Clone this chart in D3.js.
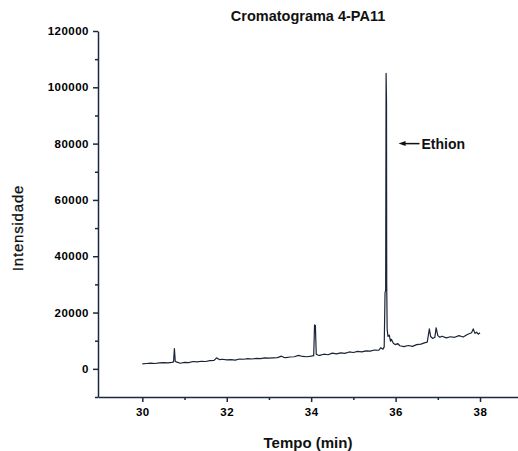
<!DOCTYPE html>
<html>
<head>
<meta charset="utf-8">
<script src="https://cdn.jsdelivr.net/npm/d3@7"></script>
<style>
  body { margin: 0; background: #fff; }
  svg { font-family: "Liberation Sans", Arial, sans-serif; }
  .axis path, .axis line { stroke: #1c2840; stroke-width: 1.5; }
  .axis text { fill: #000; font-weight: bold; font-size: 11.5px; letter-spacing: 0.5px; }
</style>
</head>
<body>
<svg id="chart"></svg>
<script>
// retention time (min) and detector intensity
const tempo = [
  30.00, 30.10, 30.20, 30.30, 30.40, 30.50, 30.60, 30.70, 30.74, 30.76, 30.78, 30.82, 30.90,
  31.00, 31.10, 31.20, 31.30, 31.40, 31.50, 31.60, 31.70, 31.76, 31.82, 31.90,
  32.00, 32.10, 32.20, 32.30, 32.40, 32.50, 32.60, 32.70, 32.80, 32.90,
  33.00, 33.10, 33.20, 33.30, 33.35, 33.40, 33.50, 33.60, 33.70, 33.80, 33.90,
  34.00, 34.06, 34.08, 34.10, 34.12, 34.16, 34.20, 34.30, 34.40, 34.50, 34.60, 34.70, 34.80, 34.90,
  35.00, 35.10, 35.20, 35.30, 35.40, 35.50, 35.60, 35.65, 35.70, 35.73, 35.75, 35.765, 35.775, 35.785,
  35.79, 35.80, 35.82, 35.85, 35.88, 35.90, 35.95,
  36.00, 36.05, 36.10, 36.20, 36.30, 36.40, 36.50, 36.60, 36.70, 36.75, 36.80, 36.83, 36.88, 36.93, 36.96,
  37.00, 37.05, 37.10, 37.20, 37.30, 37.40, 37.50, 37.60, 37.70, 37.80, 37.84, 37.88, 37.92, 37.96, 38.00
];
const intensidade = [
  1800, 1900, 2000, 1900, 2100, 2200, 2100, 2300, 2500, 7200, 2600, 2400, 2000,
  2300, 2200, 2600, 2500, 2700, 2600, 2900, 3000, 3900, 3300, 3400,
  3200, 3300, 3100, 3500, 3400, 3600, 3500, 3700, 3600, 3900,
  3800, 3900, 4000, 4500, 4100, 4000, 4200, 4300, 4800, 4400, 4300,
  4500, 4700, 15600, 15400, 5200, 4900, 4800, 5200, 5000, 5600, 5300, 5700, 5500, 6000,
  5800, 6200, 6000, 6400, 6300, 6700, 6600, 7500, 7000, 7800, 27000, 28000, 105000, 95000,
  30000, 14000, 11500, 12000, 9800, 10500, 9000,
  8600, 9000, 8200, 7900, 8300, 8000, 8600, 8800, 9300, 9500, 14200, 11500, 10800, 11200, 14600,
  11800, 11200, 11600, 11000, 11400, 11200, 11800, 11300, 12200, 12800, 14200, 12600, 13000, 12300, 12800
];
const xTicks = [30, 32, 34, 36, 38];
const xMinor = [31, 33, 35, 37];
const yTicks = [0, 20000, 40000, 60000, 80000, 100000, 120000];
const yMinor = [-10000, 10000, 30000, 50000, 70000, 90000, 110000];
const peakName = "Ethion";

const width = 518, height = 451;
const svg = d3.select("#chart").attr("width", width).attr("height", height);

const x = d3.scaleLinear().domain([28.95, 38.9]).range([98, 518]);
const y = d3.scaleLinear().domain([-10000, 120000]).range([397, 31]);

const data = tempo.map((t, i) => ({ t: t, v: intensidade[i] }));

// axes
svg.append("g").attr("class", "axis")
  .attr("transform", `translate(0,${y(-10000)})`)
  .call(d3.axisBottom(x).tickValues(xTicks).tickSize(5).tickPadding(6).tickSizeOuter(0).tickFormat(d3.format("d")));
svg.append("g").attr("class", "axis")
  .attr("transform", `translate(0,${y(-10000)})`)
  .call(d3.axisBottom(x).tickValues(xMinor).tickSize(3).tickFormat(""))
  .select(".domain").remove();

svg.append("g").attr("class", "axis")
  .attr("transform", `translate(${x(28.95)},0)`)
  .call(d3.axisLeft(y).tickValues(yTicks).tickSize(5).tickPadding(4).tickSizeOuter(0).tickFormat(d3.format("d")));
svg.append("g").attr("class", "axis")
  .attr("transform", `translate(${x(28.95)},0)`)
  .call(d3.axisLeft(y).tickValues(yMinor).tickSize(3).tickFormat(""))
  .select(".domain").remove();

// trace
svg.append("path")
  .datum(data)
  .attr("fill", "none")
  .attr("stroke", "#1a2436")
  .attr("stroke-width", 1.2)
  .attr("stroke-linejoin", "round")
  .attr("d", d3.line().x(d => x(d.t)).y(d => y(d.v)));

// annotation
const ax = x(36.07), ay = y(80000);
svg.append("line")
  .attr("x1", ax + 4).attr("y1", ay).attr("x2", ax + 21).attr("y2", ay)
  .attr("stroke", "#111").attr("stroke-width", 1.5);
svg.append("path")
  .attr("d", `M${ax},${ay} L${ax + 7},${ay - 2.5} L${ax + 7},${ay + 2.5} Z`)
  .attr("fill", "#111");
svg.append("text")
  .attr("x", ax + 23).attr("y", ay + 5)
  .attr("font-size", "14px").attr("font-weight", "bold").attr("fill", "#111")
  .text(peakName);

// titles
svg.append("text")
  .attr("x", 308).attr("y", 21)
  .attr("text-anchor", "middle")
  .attr("font-size", "14.5px").attr("font-weight", "bold").attr("fill", "#111")
  .text("Cromatograma 4-PA11");

svg.append("text")
  .attr("x", 308).attr("y", 448)
  .attr("text-anchor", "middle")
  .attr("font-size", "15px").attr("font-weight", "bold").attr("fill", "#111")
  .text("Tempo (min)");

svg.append("text")
  .attr("transform", "translate(23,228) rotate(-90)")
  .attr("text-anchor", "middle")
  .attr("font-size", "15px").attr("letter-spacing", "0.8px").attr("fill", "#111")
  .attr("stroke", "#111").attr("stroke-width", 0.3)
  .text("Intensidade");
</script>
</body>
</html>
